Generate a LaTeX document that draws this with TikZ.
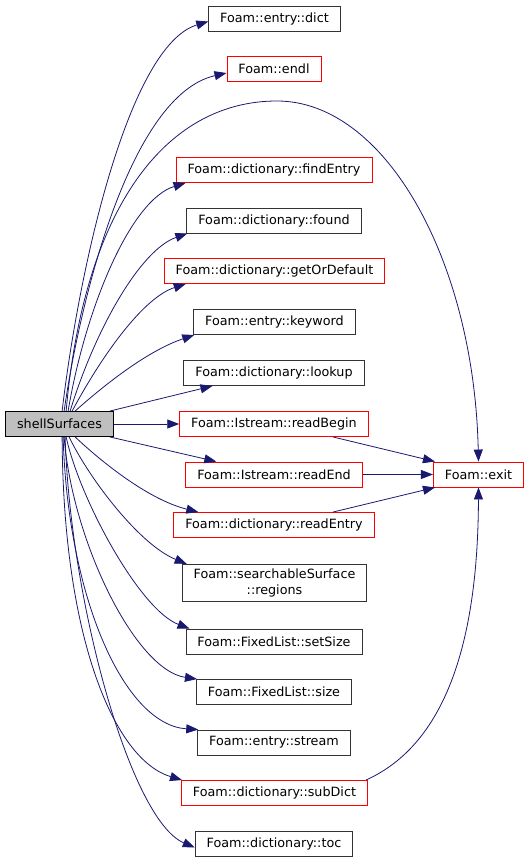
\documentclass[tikz,border=0pt]{standalone}
\usepackage{fontspec}
\newfontfamily\dejavu{DejaVu Sans}
\usetikzlibrary{arrows.meta}
\definecolor{edgeblue}{HTML}{191970}
\definecolor{nodegray}{HTML}{BFBFBF}
\definecolor{boxline}{HTML}{333333}
\begin{document}
\begin{tikzpicture}[x=1pt, y=-1pt,
    fn/.style={draw=boxline, line width=0.9pt, fill=white, inner xsep=11.5pt, inner ysep=4.8pt,
      minimum height=25pt, align=center, font=\dejavu\fontsize{12.75}{15.5}\selectfont},
    fnred/.style={fn, draw=red},
    fnmain/.style={fn, draw=black, fill=nodegray},
    call/.style={draw=edgeblue, line width=0.8pt, -{Triangle[length=12pt,width=9pt]}}]
		\useasboundingbox (0,0) rectangle (529,864);
		
		% Caller
		\node[fnmain] (shell) at (59.5, 424) {shellSurfaces};
		
		% Callees
		\node[fn] (dict) at (274.5, 18.5) {Foam::entry::dict};
		\node[fnred] (endl) at (274, 69) {Foam::endl};
		\node[fnred] (findEntry) at (274, 170) {Foam::dictionary::findEntry};
		\node[fn] (found) at (274, 220.5) {Foam::dictionary::found};
		\node[fnred] (getOrDefault) at (274.5, 271) {Foam::dictionary::getOrDefault};
		\node[fn] (keyword) at (274.5, 322) {Foam::entry::keyword};
		\node[fn] (lookup) at (274, 373) {Foam::dictionary::lookup};
		\node[fnred] (readBegin) at (274, 424) {Foam::Istream::readBegin};
		\node[fnred] (readEnd) at (274, 474.5) {Foam::Istream::readEnd};
		\node[fnred] (readEntry) at (274, 525) {Foam::dictionary::readEntry};
		\node[fn] (regions) at (274.5, 583) {Foam::searchableSurface\\::regions};
		\node[fn] (setSize) at (274, 641.5) {Foam::FixedList::setSize};
		\node[fn] (size) at (274, 692) {Foam::FixedList::size};
		\node[fn] (stream) at (274, 742.5) {Foam::entry::stream};
		\node[fnred] (subDict) at (274.5, 793) {Foam::dictionary::subDict};
		\node[fn] (toc) at (274, 843.5) {Foam::dictionary::toc};
		\node[fnred] (exit) at (478.5, 474.5) {Foam::exit};
		
		% Calls going up
		\draw[call] ([xshift=57pt]shell.north west) .. controls (80,260) and (130,45) .. ([yshift=-3pt]dict.west);
		\draw[call] ([xshift=59pt]shell.north west) .. controls (80,300) and (130,95) .. ([yshift=-4pt]endl.west);
		\draw[call] ([xshift=63pt]shell.north west) .. controls (85,310) and (130,200) .. ([xshift=10pt]findEntry.south west);
		\draw[call] ([xshift=65pt]shell.north west) .. controls (95,330) and (140,250) .. ([xshift=1pt]found.south west);
		\draw[call] ([xshift=67pt]shell.north west) .. controls (105,350) and (145,297) .. ([xshift=22pt]getOrDefault.south west);
		\draw[call] ([xshift=70pt]shell.north west) .. controls (110,380) and (150,350) .. ([xshift=1pt]keyword.south west);
		\draw[call] ([xshift=-4pt]shell.north east) -- ([xshift=29pt]lookup.south west);
		
		% Calls straight across
		\draw[call] (shell.east) -- (readBegin.west);
		\draw[call] ([xshift=-4pt]shell.south east) -- ([xshift=31pt]readEnd.north west);
		
		% Calls going down
		\draw[call] ([xshift=70pt]shell.south west) .. controls (105,465) and (150,500) .. ([xshift=25pt]readEntry.north west);
		\draw[call] ([xshift=64pt]shell.south west) .. controls (90,480) and (140,545) .. ([xshift=5pt]regions.north west);
		\draw[call] ([xshift=61pt]shell.south west) .. controls (80,500) and (140,610) .. ([xshift=4pt]setSize.north west);
		\draw[call] ([xshift=59pt]shell.south west) .. controls (72,540) and (135,670) .. ([xshift=1pt]size.north west);
		\draw[call] ([xshift=58pt]shell.south west) .. controls (68,600) and (125,725) .. ([xshift=1pt]stream.north west);
		\draw[call] ([xshift=57pt]shell.south west) .. controls (63,640) and (115,760) .. ([xshift=1pt]subDict.north west);
		\draw[call] ([xshift=60pt]shell.south west) .. controls (70,600) and (130,820) .. ([yshift=-4pt]toc.west);
		
		% Calls into exit
		\draw[call] ([xshift=61pt]shell.north west) .. controls (85,200) and (170,101) .. (277,101)
			.. controls (385,101) and (474,260) .. (exit.north);
		\draw[call] ([xshift=59pt]readBegin.south) -- ([xshift=2pt]exit.north west);
		\draw[call] (readEnd.east) -- (exit.west);
		\draw[call] ([xshift=59pt]readEntry.north) -- ([xshift=2pt]exit.south west);
		\draw[call] ([xshift=-2pt]subDict.north east) .. controls (455,740) and (478,620) .. (exit.south);
	\end{tikzpicture}
\end{document}
